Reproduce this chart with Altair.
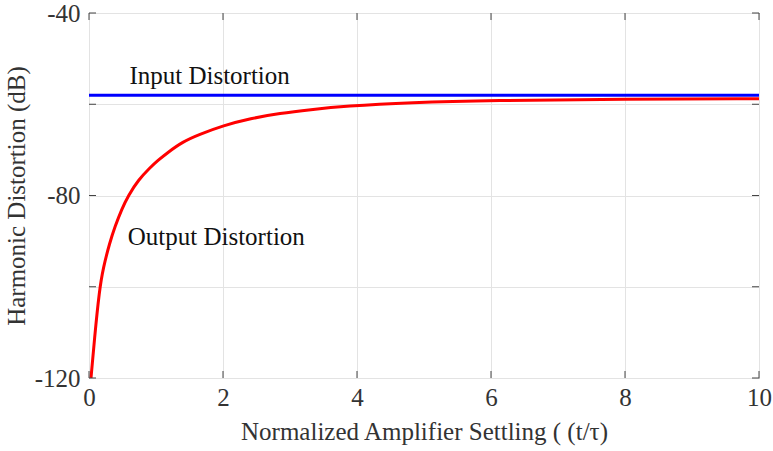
import altair as alt
import pandas as pd

# Output distortion curve
t_out = [0.03, 0.08, 0.155, 0.213, 0.31, 0.388, 0.488, 0.587, 0.736, 0.91, 1.03, 1.155, 1.40, 1.65, 2.0, 2.41, 2.85, 3.3, 3.82, 4.8, 6.0, 8.0, 10.0]
hd_out = [-120, -111.6, -100.7, -95.8, -90.3, -86.8, -83.0, -80.0, -76.6, -73.9, -72.3, -70.8, -68.2, -66.6, -64.7, -63.1, -62.0, -61.2, -60.4, -59.6, -59.15, -58.9, -58.8]

# Input distortion (flat)
t_in = [0, 10]
hd_in = [-58, -58]

# Annotations
ann_text = ["Input Distortion", "Output Distortion"]
ann_t = [1.8, 1.9]
ann_hd = [-53.9, -89.1]

x_ticks = [0, 2, 4, 6, 8, 10]
y_ticks = [-120, -100, -80, -60, -40]

FONT = "Liberation Serif"
FS = 25
W, H = 670, 365

df_out = pd.DataFrame({"t": t_out, "hd": hd_out})
df_in = pd.DataFrame({"t": t_in, "hd": hd_in})
df_ann = pd.DataFrame({"label": ann_text, "t": ann_t, "hd": ann_hd})
df_xt = pd.DataFrame({"t": x_ticks})
df_yt = pd.DataFrame({"hd": y_ticks})

xscale = alt.Scale(domain=[0, 10], nice=False, zero=False)
yscale = alt.Scale(domain=[-120, -40], nice=False, zero=False)

xaxis = alt.Axis(
    values=x_ticks, title="Normalized Amplifier Settling ( (t/τ)", ticks=False, domain=False,
    grid=True, gridColor="#e3e3e3", labelFont=FONT, labelFontSize=FS, labelColor="#333333",
    labelPadding=7, labelFlush=False, titleFont=FONT, titleFontSize=FS, titleFontWeight="normal",
    titleColor="#333333", titlePadding=9, labelExpr="toString(datum.value)",
)
yaxis = alt.Axis(
    values=y_ticks, title="Harmonic Distortion (dB)", ticks=False, domain=False,
    grid=True, gridColor="#e3e3e3", labelFont=FONT, labelFontSize=FS, labelColor="#333333",
    labelPadding=9, labelFlush=False, titleFont=FONT, titleFontSize=FS, titleFontWeight="normal",
    titleColor="#333333", titlePadding=5,
    labelExpr="datum.value % 40 == 0 ? toString(datum.value) : ''",
)

base_out = alt.Chart(df_out).mark_line(color="#ff0000", strokeWidth=3, interpolate="basis", clip=True).encode(
    x=alt.X("t:Q", scale=xscale, axis=xaxis),
    y=alt.Y("hd:Q", scale=yscale, axis=yaxis),
)

line_in = alt.Chart(df_in).mark_line(color="#0000ff", strokeWidth=3).encode(
    x=alt.X("t:Q", scale=xscale),
    y=alt.Y("hd:Q", scale=yscale),
)

texts = alt.Chart(df_ann).mark_text(font=FONT, fontSize=FS, color="#111111").encode(
    x=alt.X("t:Q", scale=xscale),
    y=alt.Y("hd:Q", scale=yscale),
    text="label:N",
)

tk = dict(color="#444444", strokeWidth=1)
yt_left = alt.Chart(df_yt).mark_rule(**tk).encode(
    y=alt.Y("hd:Q", scale=yscale), x=alt.value(0), x2=alt.value(7))
yt_right = alt.Chart(df_yt).mark_rule(**tk).encode(
    y=alt.Y("hd:Q", scale=yscale), x=alt.value(W - 7), x2=alt.value(W))
xt_bottom = alt.Chart(df_xt).mark_rule(**tk).encode(
    x=alt.X("t:Q", scale=xscale), y=alt.value(H - 7), y2=alt.value(H))
xt_top = alt.Chart(df_xt).mark_rule(**tk).encode(
    x=alt.X("t:Q", scale=xscale), y=alt.value(0), y2=alt.value(7))

chart = alt.layer(base_out, line_in, texts, yt_left, yt_right, xt_bottom, xt_top).properties(
    width=W, height=H,
    autosize=alt.AutoSizeParams(type="none"),
    padding={"left": 89, "top": 13, "right": 14, "bottom": 73},
    background="white",
).configure_view(stroke="#444444", strokeWidth=1)

chart.save("out.html", embed_options={"renderer": "svg", "actions": False})
